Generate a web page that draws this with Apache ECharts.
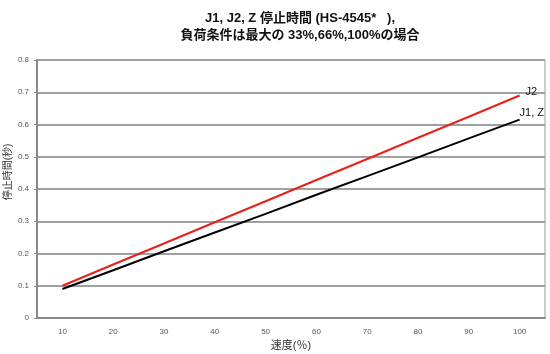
<!DOCTYPE html>
<html>
<head>
<meta charset="utf-8">
<script src="https://cdn.jsdelivr.net/npm/echarts@6/dist/echarts.min.js"></script>
<style>html,body{margin:0;padding:0;background:#fff;}#c{width:550px;height:354px;}</style>
</head>
<body>
<div id="c"></div>
<script>
const categories = ['10','20','30','40','50','60','70','80','90','100'];
const j2 = [0.10,0.166,0.231,0.297,0.362,0.428,0.493,0.559,0.624,0.69];
const j1z = [0.09,0.148,0.207,0.265,0.323,0.382,0.44,0.498,0.557,0.615];
const titleText = 'J1, J2, Z 停止時間 (HS-4545*   ),\n負荷条件は最大の 33%,66%,100%の場合';
const font = '"Liberation Sans", Arial, "Noto Sans CJK JP", sans-serif';
const chart = echarts.init(document.getElementById('c'), null, {renderer:'canvas'});
chart.setOption({
  animation:false,
  backgroundColor:'#fff',
  title:{text:titleText, left:295, textAlign:'center', top:5,
    textStyle:{fontSize:13, fontWeight:'bold', color:'#111', fontFamily:font, lineHeight:17}},
  grid:{left:37, right:5, top:60, bottom:36, show:true, borderColor:'#999', borderWidth:1,
    containLabel:false, outerBoundsMode:'none'},
  xAxis:{type:'category', data:categories, boundaryGap:true,
    name:'速度(％)', nameLocation:'middle', nameGap:22, nameMoveOverlap:false,
    nameTextStyle:{fontSize:11, color:'#333', fontFamily:font},
    axisLine:{lineStyle:{color:'#888', width:2}},
    axisTick:{inside:true, length:3, lineStyle:{color:'#888'}},
    axisLabel:{fontSize:8, color:'#555', fontFamily:font, margin:10}},
  yAxis:{type:'value', min:0, max:0.8, interval:0.1,
    name:'停止時間(秒)', nameLocation:'middle', nameGap:24, nameMoveOverlap:false,
    nameTextStyle:{fontSize:10, color:'#333', fontFamily:font, padding:[0,0,0,34]},
    axisLine:{show:true, lineStyle:{color:'#888', width:2}},
    axisTick:{show:true, length:3, lineStyle:{color:'#888'}},
    axisLabel:{fontSize:8, color:'#555', fontFamily:font, margin:8,
      formatter:v=>v===0?'0':String(Math.round(v*10)/10)},
    splitLine:{lineStyle:{color:'#a0a0a0', width:2}}},
  series:[
    {name:'J2', type:'line', data:j2, symbol:'none', z:3,
      lineStyle:{color:'#e8201a', width:2},
      endLabel:{show:true, formatter:'J2', offset:[-2,-4], fontSize:11, color:'#111', fontFamily:font}},
    {name:'J1, Z', type:'line', data:j1z, symbol:'none', z:2,
      lineStyle:{color:'#000', width:2},
      endLabel:{show:true, formatter:'J1, Z', offset:[-8,-7], fontSize:11, color:'#111', fontFamily:font}}
  ]
});
</script>
</body>
</html>
